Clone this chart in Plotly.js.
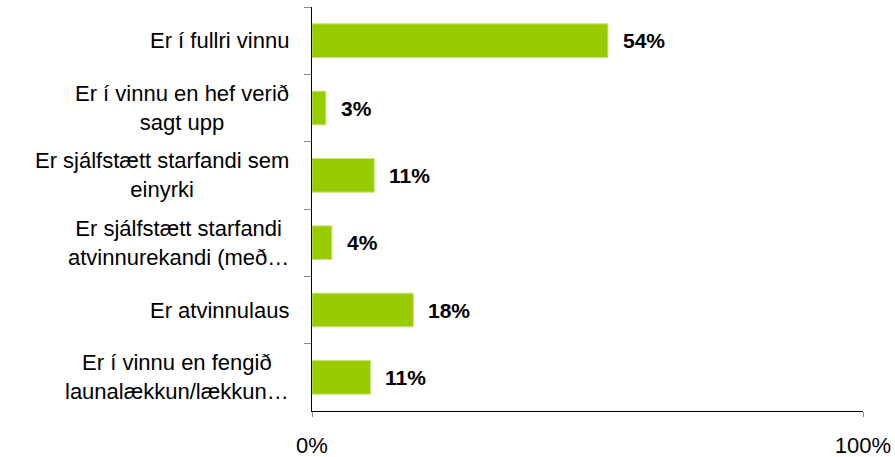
<!DOCTYPE html>
<html>
<head>
<meta charset="utf-8">
<script src="https://cdn.plot.ly/plotly-3.0.1.min.js"></script>
<style>html,body{margin:0;padding:0;background:#fff;}#chart{width:895px;height:457px;}</style>
</head>
<body>
<div id="chart"></div>
<script>
const categories = [
  "Er í fullri vinnu",
  "Er í vinnu en hef verið<br>sagt upp",
  "Er sjálfstætt starfandi sem<br>einyrki",
  "Er sjálfstætt starfandi<br>atvinnurekandi (með…",
  "Er atvinnulaus",
  "Er í vinnu en fengið<br>launalækkun/lækkun…"
];
const values = [53.7, 2.5, 11.3, 3.6, 18.4, 10.6];
const valueLabels = ["54%", "3%", "11%", "4%", "18%", "11%"];
const xTickVals = [0, 100];
const xTickText = ["0%", "100%"];

const font = "Liberation Sans, Arial, sans-serif";

const trace = {
  type: "bar",
  orientation: "h",
  y: categories,
  x: values,
  marker: {color: "#99CC00", line: {color: "#C8E47A", width: 1}},
  hoverinfo: "none"
};

const annotations = [];
categories.forEach((c, i) => {
  annotations.push({
    xref: "paper", yref: "y", x: 0, y: c,
    xanchor: "right", yanchor: "middle", xshift: -21,
    text: c, showarrow: false, align: "center",
    font: {family: font, size: 22, color: "#000"}
  });
  annotations.push({
    xref: "x", yref: "y", x: values[i], y: c,
    xanchor: "left", yanchor: "middle", xshift: 13,
    text: "<b>" + valueLabels[i] + "</b>", showarrow: false,
    font: {family: font, size: 21, color: "#000"}
  });
});

const layout = {
  width: 895, height: 457,
  margin: {l: 312, r: 32, t: 7, b: 46, pad: 0},
  paper_bgcolor: "#fff", plot_bgcolor: "#fff",
  showlegend: false,
  bargap: 0.5,
  font: {family: font, size: 22, color: "#000"},
  xaxis: {
    range: [0, 100], tickvals: xTickVals, ticktext: xTickText,
    showgrid: false, zeroline: false,
    showline: true, linecolor: "#000", linewidth: 1,
    ticks: "outside", ticklen: 5, tickcolor: "#888", tickwidth: 1,
    ticklabelstandoff: 10,
    tickfont: {family: font, size: 22, color: "#000"}
  },
  yaxis: {
    type: "category", autorange: "reversed",
    showgrid: false, zeroline: false,
    showline: true, linecolor: "#000", linewidth: 1,
    ticks: "outside", tickson: "boundaries", ticklen: 7, tickcolor: "#888", tickwidth: 1,
    showticklabels: false
  },
  annotations: annotations
};

Plotly.newPlot("chart", [trace], layout, {staticPlot: true, displayModeBar: false});
</script>
</body>
</html>
